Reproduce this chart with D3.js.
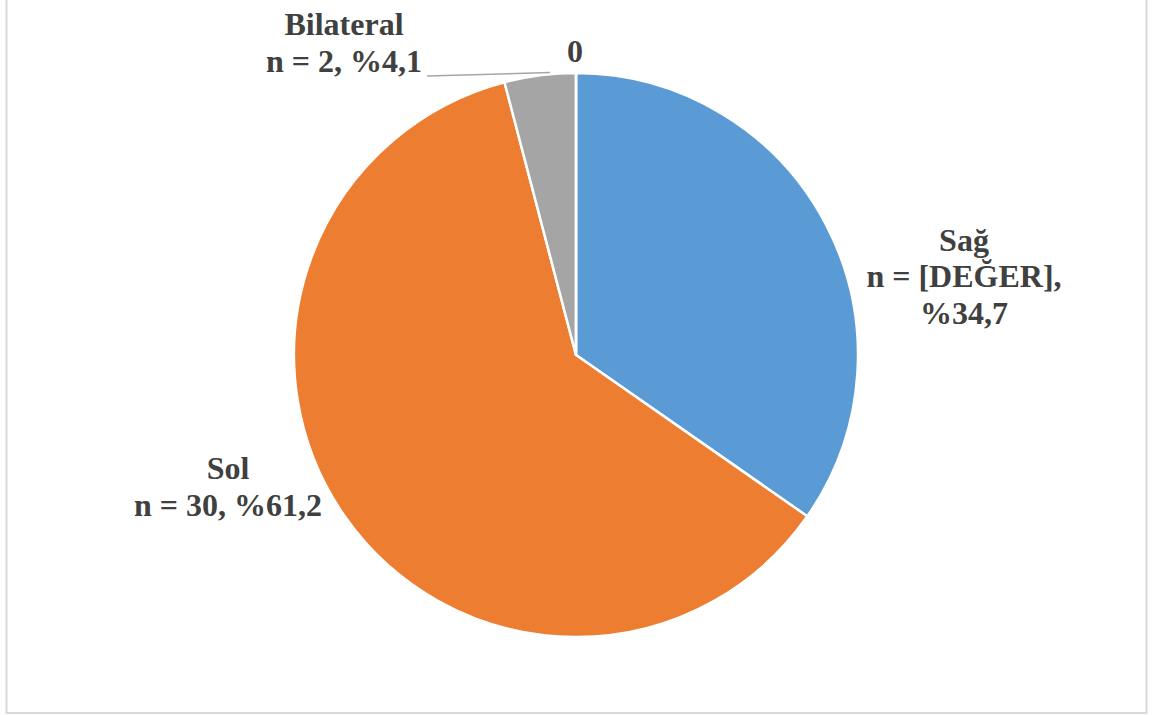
<!DOCTYPE html>
<html>
<head>
<meta charset="utf-8">
<script src="https://cdn.jsdelivr.net/npm/d3@7"></script>
<style>
  html, body { margin: 0; padding: 0; background: #fff; }
  svg { display: block; }
</style>
</head>
<body>
<svg id="chart" width="1158" height="715"></svg>
<script>
// Side of involvement: category names, counts and printed label lines
const categories = ["Sağ", "Sol", "Bilateral", ""];
const counts = [17, 30, 2, 0];
const labelLines = [
  ["Sağ", "n = [DEĞER],", "%34,7"],
  ["Sol", "n = 30, %61,2"],
  ["Bilateral", "n = 2, %4,1"],
  ["0"]
];
const colors = ["#5B9BD5", "#ED7D31", "#A5A5A5", "#FFC000"];

const cx = 576, cy = 355, R = 282;
const LINE_H = 36.5;

const svg = d3.select("#chart");

// chart area frame
svg.append("rect")
  .attr("x", 6.5).attr("y", -2).attr("width", 1140).attr("height", 715)
  .attr("fill", "#fff").attr("stroke", "#D9D9D9").attr("stroke-width", 2);

const pie = d3.pie().sort(null).value(d => d)(counts);
const arc = d3.arc().innerRadius(0).outerRadius(R);

const g = svg.append("g").attr("transform", `translate(${cx},${cy})`);

g.selectAll("path.slice")
  .data(pie)
  .join("path")
  .attr("class", "slice")
  .attr("d", arc)
  .attr("fill", (d, i) => colors[i])
  .attr("stroke", "#fff")
  .attr("stroke-width", 2.5)
  .attr("stroke-linejoin", "miter");

// label placement: centre x and first baseline, relative to pie centre
const labelLayout = [
  { x: 388, y: 250.5 - cy },
  { x: -348, y: 479 - cy },
  { x: -232, y: 35 - cy },
  { x: -1, y: 62 - cy }
];

pie.forEach((d, i) => {
  const L = labelLayout[i];
  labelLines[i].forEach((line, k) => {
    g.append("text")
      .attr("x", L.x)
      .attr("y", L.y + k * LINE_H)
      .attr("text-anchor", "middle")
      .attr("font-family", "'Liberation Serif'")
      .attr("font-weight", "bold")
      .attr("font-size", 32)
      .attr("fill", "#404040")
      .text(line);
  });
});

// leader line from the Bilateral label to the top of its slice
const bil = pie[2];
const midA = (bil.startAngle + bil.endAngle) / 2;
const edgeX = Math.sin(midA) * R;
g.append("polyline")
  .attr("points", [[-149, 76 - cy], [edgeX + 10, -R - 0.5]].map(p => p.join(",")).join(" "))
  .attr("fill", "none")
  .attr("stroke", "#A6A6A6")
  .attr("stroke-width", 1.5);
</script>
</body>
</html>
